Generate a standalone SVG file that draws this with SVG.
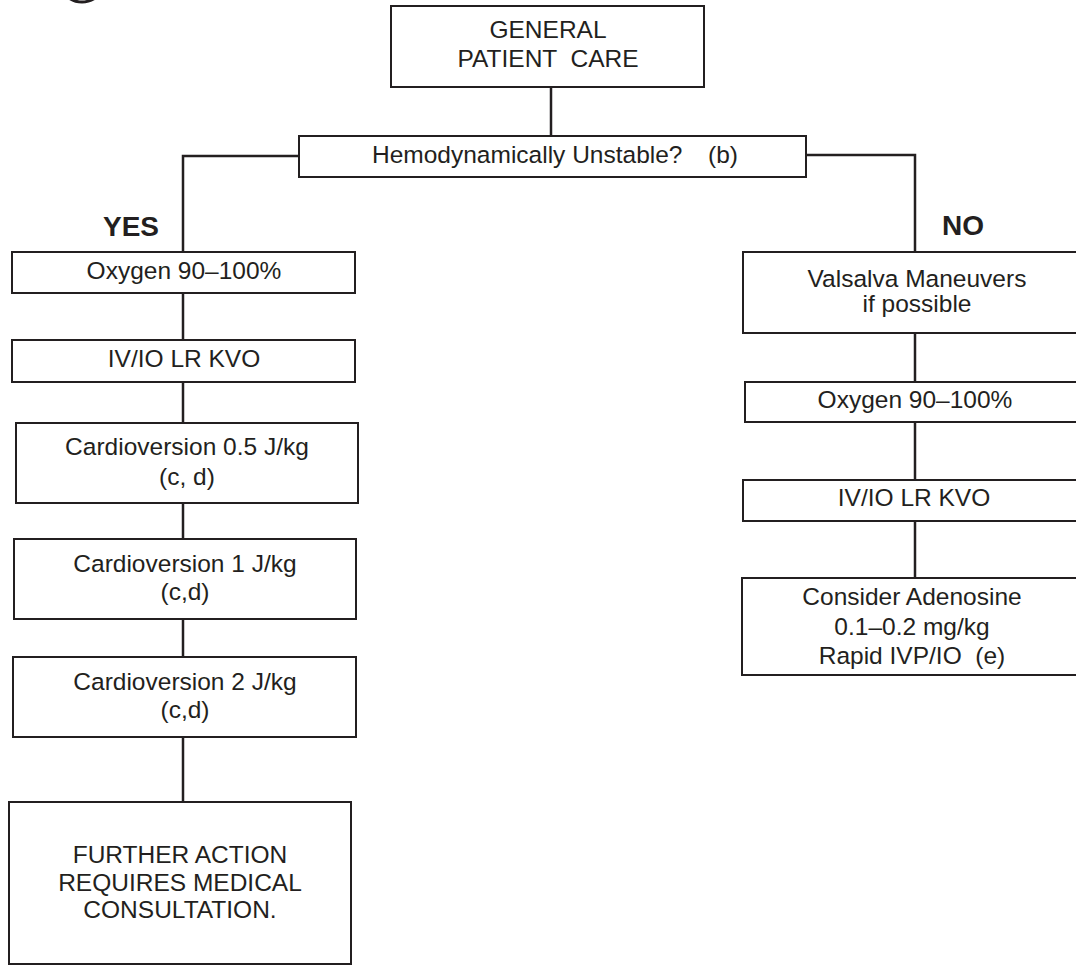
<svg xmlns="http://www.w3.org/2000/svg" width="1076" height="968" viewBox="0 0 1076 968">
<style>
.box{fill:#fff;stroke:#231f20;stroke-width:2}
.ln{fill:none;stroke:#231f20;stroke-width:2.5}
text{font-family:"Liberation Sans",Arial,sans-serif;font-size:24.5px;fill:#231f20}
.c{text-anchor:middle}
.b{font-weight:bold;font-size:28px}
</style>
<rect width="1076" height="968" fill="#fff"/>
<circle cx="82" cy="-21" r="23" fill="none" stroke="#231f20" stroke-width="3"/>
<g id="connectors">
<line class="ln" x1="551" y1="87" x2="551" y2="136"/>
<polyline class="ln" points="299,156 183,156 183,252"/>
<polyline class="ln" points="806,155 915,155 915,252"/>
<line class="ln" x1="183" y1="293" x2="183" y2="340"/>
<line class="ln" x1="183" y1="382" x2="183" y2="423"/>
<line class="ln" x1="183" y1="503" x2="183" y2="539"/>
<line class="ln" x1="183" y1="619" x2="183" y2="657"/>
<line class="ln" x1="183" y1="737" x2="183" y2="802"/>
<line class="ln" x1="915" y1="333" x2="915" y2="382"/>
<line class="ln" x1="915" y1="422" x2="915" y2="480"/>
<line class="ln" x1="915" y1="521" x2="915" y2="578"/>
</g>
<g id="general">
<rect class="box" x="391" y="6" width="313" height="81"/>
<text class="c" x="548" y="38">GENERAL</text>
<text class="c" x="548" y="67" xml:space="preserve">PATIENT  CARE</text>
</g>
<g id="unstable">
<rect class="box" x="299" y="136" width="507" height="41"/>
<text x="372" y="163">Hemodynamically Unstable?</text>
<text x="708" y="163">(b)</text>
</g>
<g id="yes-label"><text class="b" x="103" y="236">YES</text></g>
<g id="no-label"><text class="b" x="942" y="235">NO</text></g>
<g id="oxygen-left">
<rect class="box" x="12" y="252" width="343" height="41"/>
<text class="c" x="184" y="279">Oxygen 90–100%</text>
</g>
<g id="iv-left">
<rect class="box" x="12" y="340" width="343" height="42"/>
<text class="c" x="184" y="367">IV/IO LR KVO</text>
</g>
<g id="cardio05">
<rect class="box" x="16" y="423" width="342" height="80"/>
<text class="c" x="187" y="455">Cardioversion 0.5 J/kg</text>
<text class="c" x="187" y="485">(c, d)</text>
</g>
<g id="cardio1">
<rect class="box" x="14" y="539" width="342" height="80"/>
<text class="c" x="185" y="572">Cardioversion 1 J/kg</text>
<text class="c" x="185" y="600">(c,d)</text>
</g>
<g id="cardio2">
<rect class="box" x="13" y="657" width="343" height="80"/>
<text class="c" x="185" y="690">Cardioversion 2 J/kg</text>
<text class="c" x="185" y="718">(c,d)</text>
</g>
<g id="further">
<rect class="box" x="9" y="802" width="342" height="162"/>
<text class="c" x="180" y="863">FURTHER ACTION</text>
<text class="c" x="180" y="891">REQUIRES MEDICAL</text>
<text class="c" x="180" y="918">CONSULTATION.</text>
</g>
<g id="valsalva">
<rect class="box" x="743" y="252" width="360" height="81"/>
<text class="c" x="917" y="287">Valsalva Maneuvers</text>
<text class="c" x="917" y="312">if possible</text>
</g>
<g id="oxygen-right">
<rect class="box" x="745" y="382" width="360" height="40"/>
<text class="c" x="915" y="408">Oxygen 90–100%</text>
</g>
<g id="iv-right">
<rect class="box" x="743" y="480" width="360" height="41"/>
<text class="c" x="914" y="506">IV/IO LR KVO</text>
</g>
<g id="adenosine">
<rect class="box" x="742" y="578" width="360" height="97"/>
<text class="c" x="912" y="605">Consider Adenosine</text>
<text class="c" x="912" y="635">0.1–0.2 mg/kg</text>
<text class="c" x="912" y="664" xml:space="preserve">Rapid IVP/IO  (e)</text>
</g>
</svg>
